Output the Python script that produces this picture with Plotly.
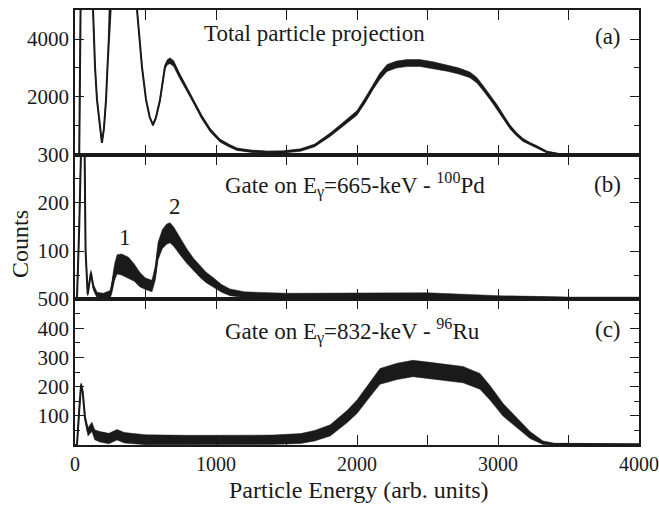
import plotly.graph_objects as go
from plotly.subplots import make_subplots

# ---------------- data ----------------
# Panel (a): total particle projection
a_x = [0, 30, 45, 100, 128, 142, 156, 175, 191, 205, 220, 232, 241, 260, 330, 400, 440, 475, 504, 530, 553,
       575, 603, 638, 655, 674, 700, 740, 790, 837, 900, 960, 1028, 1090, 1149, 1250, 1360, 1480, 1600, 1700,
       1810, 1900, 2000, 2060, 2113, 2160, 2213, 2280, 2355, 2447, 2540, 2638, 2720, 2801, 2850, 2894, 2950,
       2993, 3040, 3085, 3130, 3177, 3230, 3277, 3348, 3420, 3500, 4000]
a_y = [0, 0, 8000, 12000, 5000, 3040, 1900, 1000, 420, 900, 1900, 3200, 5000, 9000, 12000, 9000, 5000, 3040,
       1900, 1300, 1035, 1300, 1900, 3040, 3200, 3250, 3150, 2750, 2300, 1900, 1300, 850, 500, 330, 200, 130,
       100, 110, 170, 330, 700, 1050, 1450, 1900, 2350, 2700, 3000, 3120, 3170, 3170, 3100, 3000, 2900, 2760,
       2580, 2310, 1950, 1660, 1300, 970, 720, 520, 380, 280, 100, 40, 25, 20]
a_w = [0, 0, 0, 0, 0, 0, 0, 0, 0, 0, 0, 0, 0, 0, 0, 0, 0, 0, 20, 30, 40, 50, 60, 80, 90, 100, 100, 90, 80, 75,
       70, 60, 55, 50, 45, 40, 40, 40, 45, 50, 60, 70, 80, 90, 100, 110, 120, 120, 120, 120, 115, 110, 105,
       100, 95, 90, 85, 80, 75, 70, 60, 55, 45, 40, 30, 20, 15, 10]

# Panel (b): gate on 665 keV - 100Pd
b_x = [0, 14, 30, 50, 65, 75, 90, 113, 130, 156, 200, 250, 262, 280, 298, 330, 380, 420, 461, 500, 546, 570,
       589, 620, 650, 674, 700, 750, 794, 840, 887, 930, 979, 1040, 1099, 1200, 1500, 2000, 2500, 3000, 3500, 4000]
b_y = [0, 0, 150, 400, 400, 100, 10, 55, 25, 8, 5, 10, 25, 55, 72, 72, 65, 55, 40, 32, 27, 55, 100, 125, 135,
       138, 130, 108, 89, 72, 57, 45, 35, 22, 14, 9, 6, 6, 7, 4, 2, 2]
b_w = [0, 0, 3, 3, 3, 3, 4, 5, 6, 6, 7, 8, 12, 17, 20, 22, 22, 18, 15, 12, 12, 15, 18, 20, 21, 21, 20, 18, 15,
       13, 12, 11, 10, 8, 7, 6, 6, 6, 6, 3, 2, 2]

# Panel (c): gate on 832 keV - 96Ru
c_x = [0, 14, 30, 43, 55, 71, 92, 120, 140, 177, 240, 298, 350, 500, 800, 1000, 1200, 1400, 1600, 1700, 1810,
       1929, 2000, 2092, 2163, 2284, 2397, 2518, 2638, 2752, 2872, 2943, 3035, 3135, 3227, 3319, 3400, 4000]
c_y = [0, 0, 120, 207, 180, 93, 45, 62, 35, 28, 22, 35, 25, 18, 17, 17, 17, 18, 22, 32, 50, 97, 131, 190, 235,
       252, 262, 255, 248, 241, 218, 179, 121, 76, 34, 8, 3, 2]
c_w = [0, 0, 5, 6, 8, 10, 14, 16, 17, 18, 18, 18, 18, 17, 16, 16, 16, 16, 17, 18, 19, 21, 23, 25, 27, 28, 28,
       28, 28, 28, 27, 25, 22, 18, 12, 6, 3, 2]

x_tickvals = [0, 500, 1000, 1500, 2000, 2500, 3000, 3500, 4000]
x_ticktext = ["0", "", "1000", "", "2000", "", "3000", "", "4000"]
a_ticks = [2000, 4000]
b_ticks = [100, 200, 300]
c_ticks = [100, 200, 300, 400, 500]

INK = "#1a1a1a"
FONT = "Liberation Serif, Times New Roman, serif"

fig = make_subplots(rows=3, cols=1, shared_xaxes=True, vertical_spacing=0)


def add_band(row, xs, ys, ws):
    hi = [y + w for y, w in zip(ys, ws)]
    lo = [max(y - w, 0) for y, w in zip(ys, ws)]
    fig.add_trace(go.Scatter(x=xs + xs[::-1], y=hi + lo[::-1], fill="toself", fillcolor=INK,
                             line=dict(width=0.5, color=INK), mode="lines", hoverinfo="skip",
                             showlegend=False), row=row, col=1)
    fig.add_trace(go.Scatter(x=xs, y=ys, mode="lines", line=dict(width=2, color=INK),
                             showlegend=False), row=row, col=1)


add_band(1, a_x, a_y, a_w)
add_band(2, b_x, b_y, b_w)
add_band(3, c_x, c_y, c_w)

# x axes
for r in (1, 2, 3):
    fig.update_xaxes(range=[0, 4000], tickvals=x_tickvals, ticktext=x_ticktext, ticks="inside", ticklen=10,
                     tickwidth=1.3, tickcolor=INK, showline=True, linecolor=INK, linewidth=1.6,
                     mirror="ticks", showgrid=False, zeroline=False, automargin=False, row=r, col=1)
fig.update_xaxes(showticklabels=False, row=1, col=1)
fig.update_xaxes(showticklabels=False, row=2, col=1)
fig.update_xaxes(showticklabels=True, row=3, col=1,
                 tickfont=dict(family=FONT, size=20, color=INK))

yconf = [(1, [0, 5000], a_ticks, 1000), (2, [0, 300], b_ticks, 50), (3, [0, 500], c_ticks, 50)]
for r, rng, tv, mdt in yconf:
    fig.update_yaxes(range=rng, tickvals=tv, ticks="inside", ticklen=9, tickwidth=1.3, tickcolor=INK,
                     showline=True, linecolor=INK, linewidth=1.6, mirror="ticks", showgrid=False,
                     zeroline=False, automargin=False, tickfont=dict(family=FONT, size=21, color=INK),
                     minor=dict(dtick=mdt, tick0=0, ticks="inside", ticklen=5, tickcolor=INK, showgrid=False),
                     row=r, col=1)

fig.update_layout(
    width=659, height=508,
    margin=dict(l=75, r=20, t=10, b=63, autoexpand=False),
    paper_bgcolor="white", plot_bgcolor="white",
    font=dict(family=FONT, color=INK),
)
# equalize domains
fig.update_layout(yaxis=dict(domain=[0.6667, 1.0]), yaxis2=dict(domain=[0.3356, 0.6667]),
                  yaxis3=dict(domain=[0.0, 0.3356]))

ann = [
    dict(x=1700, y=4175, xref="x", yref="y", text="Total particle projection"),
    dict(x=3780, y=4100, xref="x", yref="y", text="(a)"),
    dict(x=1985, y=238, xref="x2", yref="y2", text="Gate on E<sub>γ</sub>=665-keV - <sup>100</sup>Pd"),
    dict(x=3780, y=238, xref="x2", yref="y2", text="(b)"),
    dict(x=355, y=128, xref="x2", yref="y2", text="1"),
    dict(x=709, y=193, xref="x2", yref="y2", text="2"),
    dict(x=1965, y=390, xref="x3", yref="y3", text="Gate on E<sub>γ</sub>=832-keV - <sup>96</sup>Ru"),
    dict(x=3780, y=397, xref="x3", yref="y3", text="(c)"),
]
for a in ann:
    fig.add_annotation(showarrow=False, xanchor="center", yanchor="middle",
                       font=dict(family=FONT, size=23, color=INK), **a)

fig.add_annotation(x=-0.0975, y=0.462, xref="paper", yref="paper", text="Counts", textangle=-90,
                   xanchor="center", yanchor="middle",
                   showarrow=False, font=dict(family=FONT, size=24, color=INK))
fig.add_annotation(x=0.5035, y=-0.103, xref="paper", yref="paper", text="Particle Energy (arb. units)",
                   xanchor="center", yanchor="middle",
                   showarrow=False, font=dict(family=FONT, size=24, color=INK))

fig.write_html("out.html", config={"displayModeBar": False},
               post_script="document.body.style.margin='0px';document.body.style.overflow='hidden';")
